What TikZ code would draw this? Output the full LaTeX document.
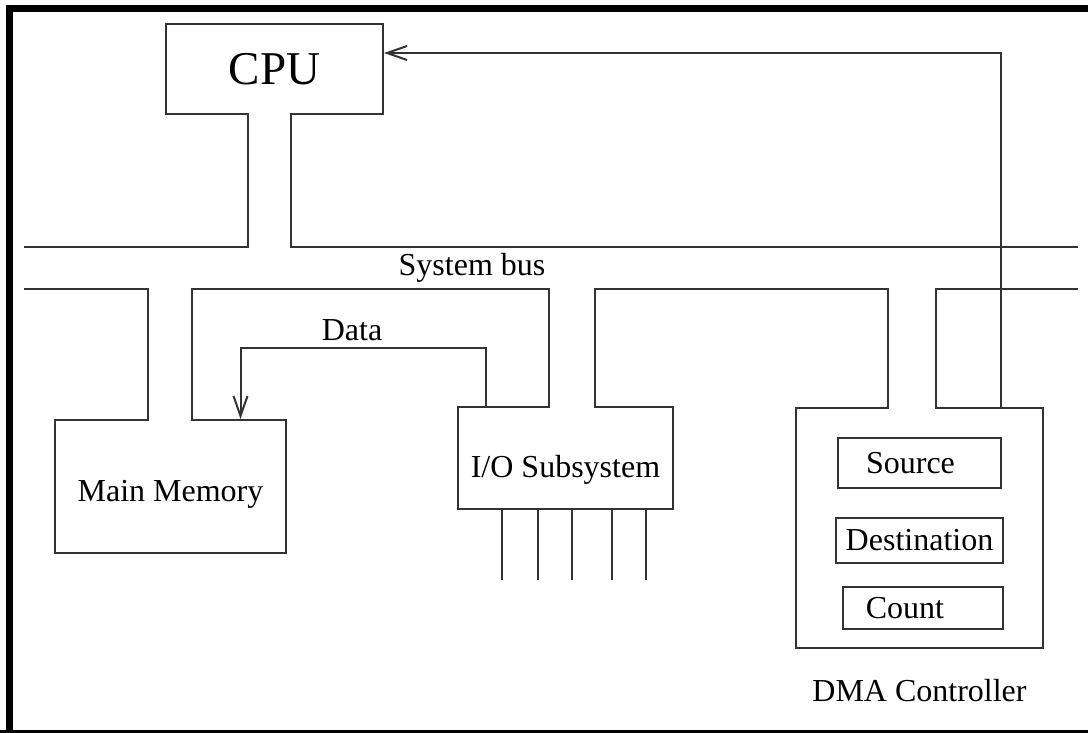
\documentclass[tikz,border=0pt]{standalone}
\usepackage{fontspec}
\setmainfont{Liberation Serif}
\usetikzlibrary{positioning, arrows.meta}

\begin{document}
\begin{tikzpicture}[
    x=1pt, y=-1pt,
    unit/.style={
        draw=black!80,
        line width=2pt,
        rectangle,
        inner sep=0pt,
        font=\fontsize{32}{36}\selectfont
    },
    bus/.style={draw=black!80, line width=2pt},
    busgap/.style={draw=white, line width=3.5pt},
    flow/.style={bus, -{Straight Barb[length=20pt, width=14pt, line width=2pt]}},
    label/.style={inner sep=0pt, font=\fontsize{32}{36}\selectfont}
]
    \useasboundingbox (0,0) rectangle (1088,733);

    % frame
    \draw[line width=7pt] (9,733) -- (9,8.5) -- (1088,8.5);
    \draw[line width=3pt] (0,731) -- (1088,731);

    % units
    \node[unit, minimum width=217pt, minimum height=90pt,
          font=\fontsize{47}{50}\selectfont] (cpu) at (274.5,69) {CPU};
    \node[unit, minimum width=231pt, minimum height=133pt,
          text height=36pt] (mem) at (170.5,486.5) {Main Memory};
    \node[unit, minimum width=215pt, minimum height=102pt,
          text height=45pt] (io) at (565.5,458) {I/O Subsystem};
    \node[unit, minimum width=247pt, minimum height=240pt] (dma) at (919.5,528) {};

    % DMA registers
    \node[unit, minimum width=163pt, minimum height=50pt] (src) at (919.5,463) {\hspace*{-18pt}Source};
    \node[unit, minimum width=167pt, minimum height=45pt] (dst) at (919.5,540.5) {Destination};
    \node[unit, minimum width=160pt, minimum height=42pt] (cnt) at (923,608) {\hspace*{-36pt}Count};
    \node[label, below=30pt of dma] (dmalbl) {DMA Controller};

    % bus ends and taps
    \coordinate (busWa) at (24,247);
    \coordinate (busEa) at (1078,247);
    \coordinate (busWb) at (24,289);
    \coordinate (busEb) at (1078,289);
    \coordinate (cpuA) at ([xshift=-27pt]cpu.south);
    \coordinate (cpuB) at ([xshift=16pt]cpu.south);
    \coordinate (memA) at ([xshift=-23pt]mem.north);
    \coordinate (memB) at ([xshift=21pt]mem.north);
    \coordinate (memD) at ([xshift=70pt]mem.north);
    \coordinate (ioD) at ([xshift=-80pt]io.north);
    \coordinate (ioA) at ([xshift=-17pt]io.north);
    \coordinate (ioB) at ([xshift=29pt]io.north);
    \coordinate (dmaA) at ([xshift=-32pt]dma.north);
    \coordinate (dmaB) at ([xshift=16pt]dma.north);
    \coordinate (dmaC) at ([xshift=81pt]dma.north);

    % openings in the boxes
    \draw[busgap] ([xshift=1pt]cpuA) -- ([xshift=-1pt]cpuB);
    \draw[busgap] ([xshift=1pt]memA) -- ([xshift=-1pt]memB);
    \draw[busgap] ([xshift=1pt]ioA) -- ([xshift=-1pt]ioB);
    \draw[busgap] ([xshift=1pt]dmaA) -- ([xshift=-1pt]dmaB);

    % system bus
    \draw[bus] (busWa) -| (cpuA);
    \draw[bus] (cpuB) |- (busEa);
    \draw[bus] (busWb) -| (memA);
    \draw[bus] (memB) |- (busWb -| ioA) -- (ioA);
    \draw[bus] (ioB) |- (busWb -| dmaA) -- (dmaA);
    \draw[bus] (dmaB) |- (busEb);
    \node[label] (buslbl) at (472,268) {System bus};

    % data path and DMA request
    \draw[flow] (ioD) -- ++(0,-58) -| (memD);
    \node[label] (datalbl) at (352,330) {Data};
    \draw[flow] (dmaC) |- ([yshift=16pt]cpu.east);

    % I/O lines
    \foreach \dx in {-64,-28,6,46,80}
        \draw[bus] ([xshift=\dx pt]io.south) -- ++(0,70);
\end{tikzpicture}
\end{document}
